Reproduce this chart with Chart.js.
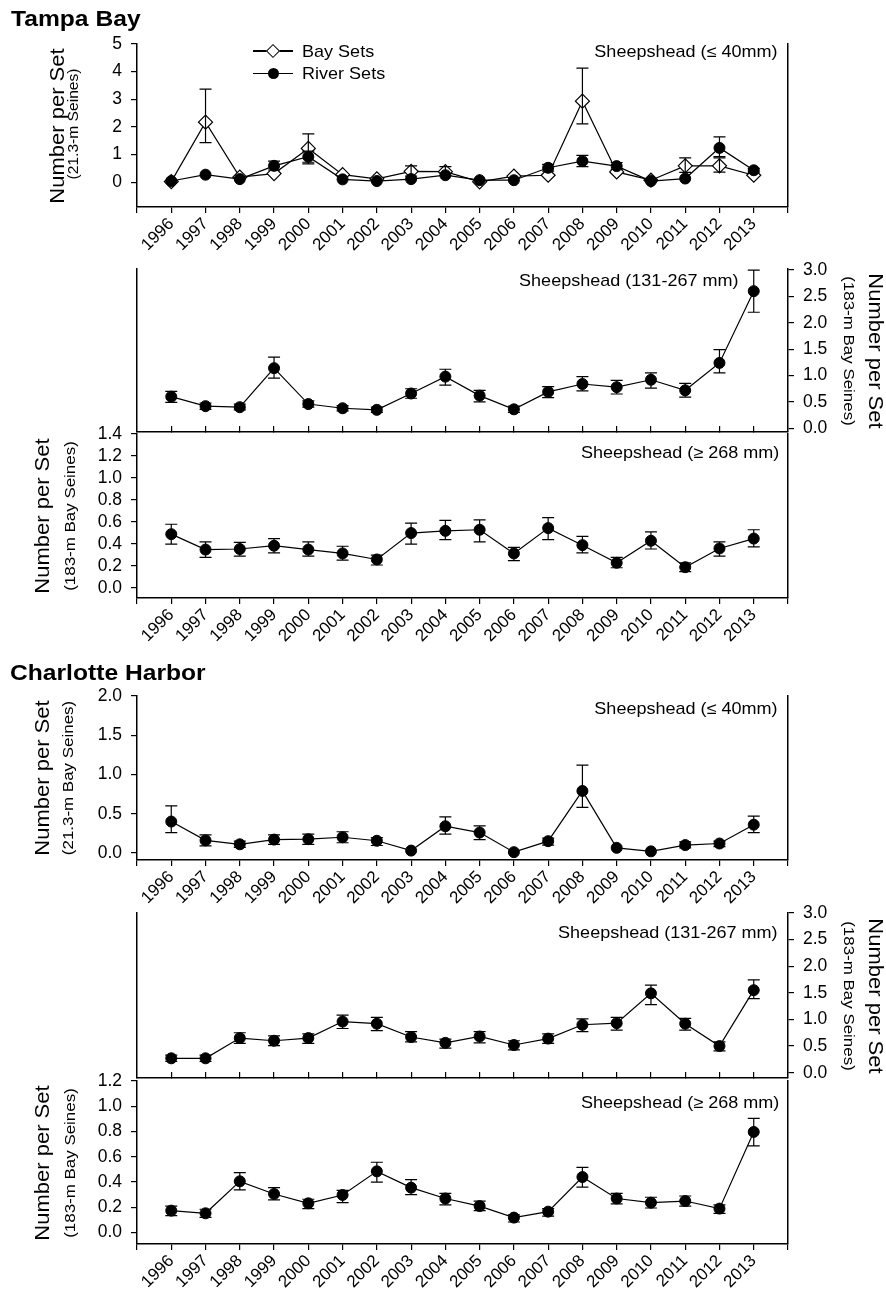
<!DOCTYPE html>
<html>
<head>
<meta charset="utf-8">
<script src="https://cdn.jsdelivr.net/npm/chart.js@4.4.1/dist/chart.umd.min.js"></script>
<style>
  body { margin: 0; background: #fff; }
  #page { position: relative; width: 886px; height: 1293px; overflow: hidden; font-family: 'Liberation Sans', Arial, Helvetica, sans-serif; color: #000; }
  canvas { position: absolute; left: 0; }
  .t { position: absolute; white-space: nowrap; line-height: 1; }
  .region { font-weight: bold; font-size: 22.4px; transform: scaleX(1.1); transform-origin: 0 50%; }
  .note { font-size: 16.4px; transform: scaleX(1.1); transform-origin: 100% 50%; }
  .leg { font-size: 16.4px; transform: scaleX(1.1); transform-origin: 0 50%; }
  .ytl { font-size: 20px; transform: translate(-50%, -50%) rotate(-90deg) scaleX(1.1); }
  .yts { font-size: 15.4px; transform: translate(-50%, -50%) rotate(-90deg) scaleX(1.1); }
  .ytr { font-size: 20px; transform: translate(-50%, -50%) rotate(90deg) scaleX(1.1); }
  .ytrs { font-size: 15.4px; transform: translate(-50%, -50%) rotate(90deg) scaleX(1.1); }
  .bar { position: absolute; background: #000; }
</style>
</head>
<body>
<div id="page">
  <canvas id="tbSmall" width="886" height="233" style="top:24px"></canvas>
  <canvas id="tbMid" width="886" height="197" style="top:249px"></canvas>
  <canvas id="tbLarge" width="886" height="234" style="top:414px"></canvas>
  <canvas id="chSmall" width="886" height="234" style="top:676px"></canvas>
  <canvas id="chMid" width="886" height="199" style="top:893px"></canvas>
  <canvas id="chLarge" width="886" height="232" style="top:1061px"></canvas>

  <div class="t region" style="left:10.5px; top:7.7px">Tampa Bay</div>
  <div class="t region" style="left:10px; top:661.5px">Charlotte Harbor</div>

  <!-- legend -->
  <div class="bar" style="left:253px; top:50.4px; width:40px; height:1.2px"></div>
  <div style="position:absolute; left:268px; top:46px; width:10px; height:10px; box-sizing:border-box; border:1.2px solid #000; background:#fff; transform:rotate(45deg)"></div>
  <div class="t leg" style="left:302px; top:43px">Bay Sets</div>
  <div class="bar" style="left:253px; top:72.7px; width:40px; height:1.2px"></div>
  <div style="position:absolute; left:267.5px; top:67.8px; width:11px; height:11px; border-radius:50%; background:#000"></div>
  <div class="t leg" style="left:302px; top:65.3px">River Sets</div>

  <div class="t note" style="right:108px; top:43.2px">Sheepshead (≤ 40mm)</div>
  <div class="t note" style="right:147px; top:271.5px">Sheepshead (131-267 mm)</div>
  <div class="t note" style="right:107px; top:444px">Sheepshead (≥ 268 mm)</div>
  <div class="t note" style="right:108px; top:699.5px">Sheepshead (≤ 40mm)</div>
  <div class="t note" style="right:108px; top:924.3px">Sheepshead (131-267 mm)</div>
  <div class="t note" style="right:107px; top:1093.5px">Sheepshead (≥ 268 mm)</div>

  <div class="t ytl" style="left:57.4px; top:125.5px">Number per Set</div>
  <div class="t yts" style="left:72.5px; top:123.5px; font-size:14.2px">(21.3-m Seines)</div>
  <div class="t ytr" style="left:875.9px; top:350.5px">Number per Set</div>
  <div class="t ytrs" style="left:848.5px; top:350.5px">(183-m Bay Seines)</div>
  <div class="t ytl" style="left:42.4px; top:516px">Number per Set</div>
  <div class="t yts" style="left:70px; top:516px">(183-m Bay Seines)</div>
  <div class="t ytl" style="left:42.4px; top:778px">Number per Set</div>
  <div class="t yts" style="left:67.5px; top:778px">(21.3-m Bay Seines)</div>
  <div class="t ytr" style="left:875.9px; top:995.5px">Number per Set</div>
  <div class="t ytrs" style="left:848.5px; top:995.5px">(183-m Bay Seines)</div>
  <div class="t ytl" style="left:42.4px; top:1162.5px">Number per Set</div>
  <div class="t yts" style="left:70px; top:1162.5px">(183-m Bay Seines)</div>
</div>

<script>
'use strict';

Chart.defaults.font.family = "'Liberation Sans', Arial, Helvetica, sans-serif";
Chart.defaults.color = '#000';

let years = [1996, 1997, 1998, 1999, 2000, 2001, 2002, 2003, 2004, 2005, 2006, 2007, 2008, 2009, 2010, 2011, 2012, 2013];
let outerYearTicks = [1995, 1996, 1997, 1998, 1999, 2000, 2001, 2002, 2003, 2004, 2005, 2006, 2007, 2008, 2009, 2010, 2011, 2012, 2013, 2014];

// Tampa Bay, <= 40 mm (21.3-m seines)
let tbSmallBay = [0.02, 2.17, 0.18, 0.31, 1.22, 0.27, 0.12, 0.39, 0.38, 0.01, 0.22, 0.25, 2.93, 0.37, 0.07, 0.59, 0.59, 0.25];
let tbSmallBayLo = [null, 1.43, null, null, 0.72, null, null, 0.22, 0.24, null, null, null, 2.11, null, null, 0.35, 0.36, null];
let tbSmallBayHi = [null, 3.37, null, null, 1.75, null, null, 0.59, 0.56, null, null, null, 4.13, null, null, 0.88, 0.88, null];
let tbSmallRiver = [0.04, 0.27, 0.11, 0.59, 0.92, 0.10, 0.04, 0.11, 0.25, 0.07, 0.07, 0.52, 0.76, 0.58, 0.04, 0.13, 1.24, 0.43];
let tbSmallRiverLo = [null, null, null, 0.44, 0.66, null, null, null, null, null, null, 0.40, 0.56, 0.46, null, null, 0.92, 0.36];
let tbSmallRiverHi = [null, null, null, 0.76, 1.12, null, null, null, null, null, null, 0.64, 0.97, 0.71, null, null, 1.64, 0.50];
let tbSmallTicks = [0, 1, 2, 3, 4, 5];

// Tampa Bay, 131-267 mm
let tbMid = [0.60, 0.42, 0.40, 1.14, 0.46, 0.38, 0.35, 0.66, 0.98, 0.62, 0.36, 0.69, 0.84, 0.78, 0.92, 0.72, 1.24, 2.60];
let tbMidLo = [0.49, 0.36, 0.35, 0.95, 0.40, 0.33, 0.30, 0.57, 0.82, 0.50, 0.30, 0.58, 0.71, 0.65, 0.76, 0.59, 1.05, 2.20];
let tbMidHi = [0.70, 0.48, 0.46, 1.35, 0.52, 0.43, 0.40, 0.75, 1.12, 0.72, 0.42, 0.79, 0.98, 0.91, 1.05, 0.85, 1.49, 3.00];
let midTicks = [0, 0.5, 1.0, 1.5, 2.0, 2.5, 3.0];

// Tampa Bay, >= 268 mm
let tbLarge = [0.49, 0.35, 0.355, 0.385, 0.35, 0.315, 0.26, 0.50, 0.52, 0.53, 0.315, 0.545, 0.39, 0.23, 0.43, 0.19, 0.36, 0.45];
let tbLargeLo = [0.40, 0.28, 0.29, 0.32, 0.29, 0.255, 0.21, 0.40, 0.44, 0.42, 0.25, 0.44, 0.32, 0.185, 0.355, 0.15, 0.29, 0.375];
let tbLargeHi = [0.58, 0.42, 0.415, 0.45, 0.42, 0.38, 0.30, 0.59, 0.615, 0.62, 0.37, 0.64, 0.47, 0.28, 0.51, 0.23, 0.42, 0.53];
let tbLargeTicks = [0, 0.2, 0.4, 0.6, 0.8, 1.0, 1.2, 1.4];

// Charlotte Harbor, <= 40 mm
let chSmall = [0.40, 0.16, 0.11, 0.17, 0.175, 0.20, 0.155, 0.03, 0.34, 0.26, 0.01, 0.15, 0.79, 0.065, 0.02, 0.10, 0.12, 0.36];
let chSmallLo = [0.26, 0.09, 0.07, 0.11, 0.11, 0.13, 0.095, null, 0.24, 0.17, null, 0.10, 0.58, null, null, 0.065, 0.08, 0.26];
let chSmallHi = [0.60, 0.23, 0.15, 0.23, 0.24, 0.27, 0.195, null, 0.46, 0.345, null, 0.19, 1.12, null, null, 0.14, 0.15, 0.47];
let chSmallTicks = [0, 0.5, 1.0, 1.5, 2.0];

// Charlotte Harbor, 131-267 mm
let chMid = [0.27, 0.27, 0.65, 0.60, 0.65, 0.96, 0.92, 0.67, 0.56, 0.68, 0.52, 0.64, 0.90, 0.93, 1.49, 0.92, 0.50, 1.55];
let chMidLo = [0.21, 0.21, 0.55, 0.51, 0.55, 0.83, 0.79, 0.58, 0.46, 0.56, 0.43, 0.55, 0.77, 0.80, 1.28, 0.80, 0.41, 1.39];
let chMidHi = [0.33, 0.33, 0.75, 0.69, 0.73, 1.08, 1.04, 0.77, 0.63, 0.77, 0.60, 0.73, 1.01, 1.04, 1.645, 1.02, 0.58, 1.745];

// Charlotte Harbor, >= 268 mm
let chLarge = [0.174, 0.153, 0.406, 0.306, 0.232, 0.298, 0.485, 0.356, 0.27, 0.21, 0.119, 0.166, 0.44, 0.27, 0.237, 0.25, 0.19, 0.797];
let chLargeLo = [0.135, 0.12, 0.338, 0.26, 0.19, 0.237, 0.40, 0.30, 0.22, 0.174, 0.084, 0.13, 0.36, 0.227, 0.195, 0.21, 0.153, 0.686];
let chLargeHi = [0.21, 0.185, 0.475, 0.356, 0.264, 0.335, 0.557, 0.42, 0.31, 0.25, 0.14, 0.19, 0.517, 0.31, 0.28, 0.29, 0.22, 0.905];
let chLargeTicks = [0, 0.2, 0.4, 0.6, 0.8, 1.0, 1.2];

function xy(vals) {
    return years.map((yr, i) => ({ x: yr, y: vals[i] }));
}

// vertical error bars with caps, drawn through the chart's own scales
let errorBars = {
    id: 'errorBars',
    afterDatasetsDraw(chart) {
        let ctx = chart.ctx;
        let xs = chart.scales.x;
        let ys = chart.scales.y;
        ctx.save();
        ctx.strokeStyle = '#000';
        ctx.lineWidth = 1.2;
        chart.data.datasets.forEach((ds) => {
            if (!ds.errLo) return;
            ds.data.forEach((pt, i) => {
                let lo = ds.errLo[i];
                let hi = ds.errHi[i];
                if (lo == null || hi == null) return;
                let x = xs.getPixelForValue(pt.x);
                let yl = ys.getPixelForValue(lo);
                let yh = ys.getPixelForValue(hi);
                ctx.beginPath();
                ctx.moveTo(x, yl);
                ctx.lineTo(x, yh);
                ctx.moveTo(x - 6, yh);
                ctx.lineTo(x + 6, yh);
                ctx.moveTo(x - 6, yl);
                ctx.lineTo(x + 6, yl);
                ctx.stroke();
            });
        });
        ctx.restore();
    }
};

function circleSet(label, vals, lo, hi) {
    return {
        label: label,
        data: xy(vals),
        errLo: lo,
        errHi: hi,
        borderColor: '#000',
        borderWidth: 1.2,
        pointStyle: 'circle',
        pointRadius: 5.5,
        pointBackgroundColor: '#000',
        pointBorderColor: '#000',
        pointBorderWidth: 1,
        order: 0,
        clip: false
    };
}

function diamondSet(label, vals, lo, hi) {
    return {
        label: label,
        data: xy(vals),
        errLo: lo,
        errHi: hi,
        borderColor: '#000',
        borderWidth: 1.2,
        pointStyle: 'rectRot',
        pointRadius: 7,
        pointBackgroundColor: '#fff',
        pointBorderColor: '#000',
        pointBorderWidth: 1.2,
        order: 1,
        clip: false
    };
}

function fmt1(v) {
    return v.toFixed(1);
}

function makePanel(id, p) {
    let axisLine = { display: true, color: '#000', width: 1.5 };
    let tickFont = { size: 17.5 };
    return new Chart(document.getElementById(id), {
        type: 'line',
        data: { datasets: p.datasets },
        options: {
            responsive: false,
            animation: false,
            devicePixelRatio: 1,
            layout: { padding: { top: 20, right: 0, bottom: 0, left: 0 } },
            plugins: {
                legend: { display: false },
                tooltip: { enabled: false },
                title: { display: false }
            },
            scales: {
                x: {
                    type: 'linear',
                    position: 'bottom',
                    min: 1995,
                    max: 2014,
                    afterBuildTicks: (s) => {
                        let vals = p.yearLabels ? outerYearTicks : years;
                        s.ticks = vals.map((v) => ({ value: v }));
                    },
                    afterFit: (s) => {
                        s.height = p.xHeight;
                        s.paddingLeft = 0;
                        s.paddingRight = 0;
                    },
                    border: axisLine,
                    grid: {
                        display: true,
                        drawOnChartArea: false,
                        drawTicks: true,
                        tickLength: p.yearLabels ? 6 : -6,
                        color: '#000',
                        lineWidth: 1.2
                    },
                    ticks: {
                        display: p.yearLabels,
                        autoSkip: false,
                        maxRotation: 45,
                        minRotation: 45,
                        padding: 1,
                        labelOffset: 0,
                        font: { size: 17 },
                        callback: (v) => (v === 1995 || v === 2014) ? '' : String(v)
                    }
                },
                y: {
                    type: 'linear',
                    position: 'left',
                    min: p.yMin,
                    max: p.yMax,
                    afterBuildTicks: (s) => {
                        s.ticks = p.yTicks.map((v) => ({ value: v }));
                    },
                    afterFit: (s) => {
                        s.width = 137;
                        s.paddingTop = 0;
                        s.paddingBottom = 0;
                    },
                    border: axisLine,
                    grid: {
                        display: p.side === 'left',
                        drawOnChartArea: false,
                        drawTicks: true,
                        tickLength: 6,
                        color: '#000',
                        lineWidth: 1.2
                    },
                    ticks: {
                        display: p.side === 'left',
                        autoSkip: false,
                        padding: 9,
                        font: tickFont,
                        callback: p.fmt
                    }
                },
                y2: {
                    type: 'linear',
                    position: 'right',
                    min: p.yMin,
                    max: p.yMax,
                    afterBuildTicks: (s) => {
                        s.ticks = p.yTicks.map((v) => ({ value: v }));
                    },
                    afterFit: (s) => {
                        s.width = 98;
                        s.paddingTop = 0;
                        s.paddingBottom = 0;
                    },
                    border: axisLine,
                    grid: {
                        display: p.side === 'right',
                        drawOnChartArea: false,
                        drawTicks: true,
                        tickLength: 6,
                        color: '#000',
                        lineWidth: 1.2
                    },
                    ticks: {
                        display: p.side === 'right',
                        autoSkip: false,
                        padding: 9,
                        font: tickFont,
                        callback: p.fmt
                    }
                }
            }
        },
        plugins: [errorBars]
    });
}

makePanel('tbSmall', {
    datasets: [
        circleSet('River Sets', tbSmallRiver, tbSmallRiverLo, tbSmallRiverHi),
        diamondSet('Bay Sets', tbSmallBay, tbSmallBayLo, tbSmallBayHi)
    ],
    yMin: -0.9, yMax: 5, yTicks: tbSmallTicks, fmt: (v) => String(v),
    side: 'left', yearLabels: true, xHeight: 50
});

makePanel('tbMid', {
    datasets: [circleSet('Sheepshead (131-267 mm)', tbMid, tbMidLo, tbMidHi)],
    yMin: -0.07, yMax: 3.02, yTicks: midTicks, fmt: fmt1,
    side: 'right', yearLabels: false, xHeight: 14
});

makePanel('tbLarge', {
    datasets: [circleSet('Sheepshead (≥ 268 mm)', tbLarge, tbLargeLo, tbLargeHi)],
    yMin: -0.09, yMax: 1.4, yTicks: tbLargeTicks, fmt: fmt1,
    side: 'left', yearLabels: true, xHeight: 50
});

makePanel('chSmall', {
    datasets: [circleSet('Sheepshead (≤ 40mm)', chSmall, chSmallLo, chSmallHi)],
    yMin: -0.09, yMax: 2.0, yTicks: chSmallTicks, fmt: fmt1,
    side: 'left', yearLabels: true, xHeight: 50
});

makePanel('chMid', {
    datasets: [circleSet('Sheepshead (131-267 mm)', chMid, chMidLo, chMidHi)],
    yMin: -0.1, yMax: 3.0, yTicks: midTicks, fmt: fmt1,
    side: 'right', yearLabels: false, xHeight: 14
});

makePanel('chLarge', {
    datasets: [circleSet('Sheepshead (≥ 268 mm)', chLarge, chLargeLo, chLargeHi)],
    yMin: -0.09, yMax: 1.2, yTicks: chLargeTicks, fmt: fmt1,
    side: 'left', yearLabels: true, xHeight: 49
});
</script>
</body>
</html>
